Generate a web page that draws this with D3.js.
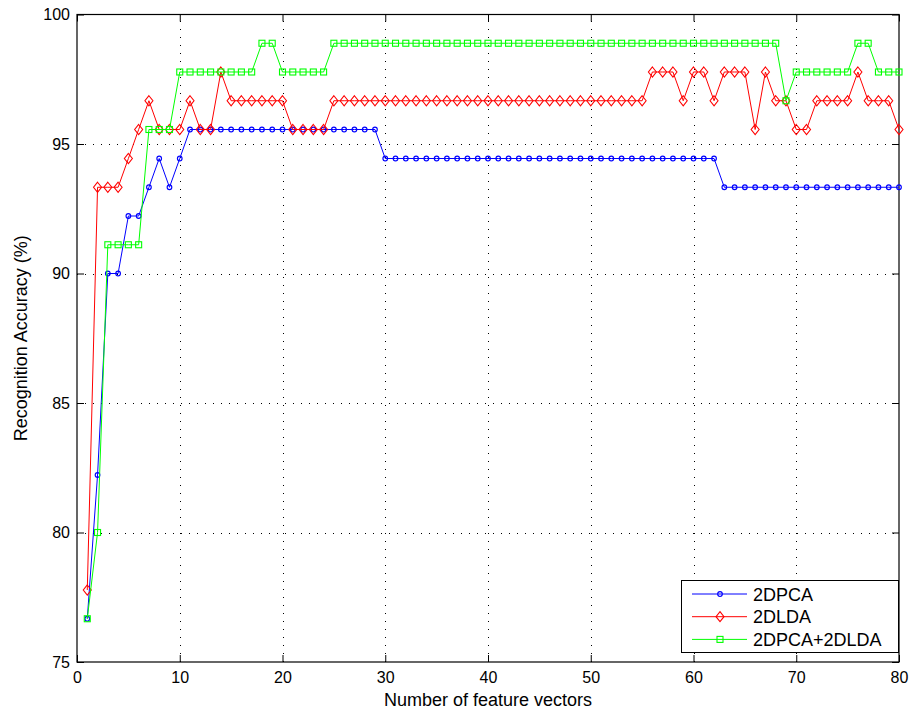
<!DOCTYPE html>
<html>
<head>
<meta charset="utf-8">
<script src="https://cdn.jsdelivr.net/npm/d3@7.9.0/dist/d3.min.js"></script>
<style>
  body { margin: 0; background: #fff; }
  svg { display: block; font-family: "Liberation Sans", Arial, sans-serif; }
</style>
</head>
<body>
<svg id="chart" width="911" height="713"></svg>
<script>
// x positions: number of feature vectors 1..80
const featureCounts = d3.range(1, 81);

// accuracy values (%) (multiples of 1/90)
const pca2d = [
  76.67, 82.22, 90.00, 90.00, 92.22, 92.22, 93.33, 94.44, 93.33, 94.44,
  95.56, 95.56, 95.56, 95.56, 95.56, 95.56, 95.56, 95.56, 95.56, 95.56,
  95.56, 95.56, 95.56, 95.56, 95.56, 95.56, 95.56, 95.56, 95.56, 94.44,
  94.44, 94.44, 94.44, 94.44, 94.44, 94.44, 94.44, 94.44, 94.44, 94.44,
  94.44, 94.44, 94.44, 94.44, 94.44, 94.44, 94.44, 94.44, 94.44, 94.44,
  94.44, 94.44, 94.44, 94.44, 94.44, 94.44, 94.44, 94.44, 94.44, 94.44,
  94.44, 94.44, 93.33, 93.33, 93.33, 93.33, 93.33, 93.33, 93.33, 93.33,
  93.33, 93.33, 93.33, 93.33, 93.33, 93.33, 93.33, 93.33, 93.33, 93.33
];
const lda2d = [
  77.78, 93.33, 93.33, 93.33, 94.44, 95.56, 96.67, 95.56, 95.56, 95.56,
  96.67, 95.56, 95.56, 97.78, 96.67, 96.67, 96.67, 96.67, 96.67, 96.67,
  95.56, 95.56, 95.56, 95.56, 96.67, 96.67, 96.67, 96.67, 96.67, 96.67,
  96.67, 96.67, 96.67, 96.67, 96.67, 96.67, 96.67, 96.67, 96.67, 96.67,
  96.67, 96.67, 96.67, 96.67, 96.67, 96.67, 96.67, 96.67, 96.67, 96.67,
  96.67, 96.67, 96.67, 96.67, 96.67, 97.78, 97.78, 97.78, 96.67, 97.78,
  97.78, 96.67, 97.78, 97.78, 97.78, 95.56, 97.78, 96.67, 96.67, 95.56,
  95.56, 96.67, 96.67, 96.67, 96.67, 97.78, 96.67, 96.67, 96.67, 95.56
];
const pcaLda2d = [
  76.67, 80.00, 91.11, 91.11, 91.11, 91.11, 95.56, 95.56, 95.56, 97.78,
  97.78, 97.78, 97.78, 97.78, 97.78, 97.78, 97.78, 98.89, 98.89, 97.78,
  97.78, 97.78, 97.78, 97.78, 98.89, 98.89, 98.89, 98.89, 98.89, 98.89,
  98.89, 98.89, 98.89, 98.89, 98.89, 98.89, 98.89, 98.89, 98.89, 98.89,
  98.89, 98.89, 98.89, 98.89, 98.89, 98.89, 98.89, 98.89, 98.89, 98.89,
  98.89, 98.89, 98.89, 98.89, 98.89, 98.89, 98.89, 98.89, 98.89, 98.89,
  98.89, 98.89, 98.89, 98.89, 98.89, 98.89, 98.89, 98.89, 96.67, 97.78,
  97.78, 97.78, 97.78, 97.78, 97.78, 98.89, 98.89, 97.78, 97.78, 97.78
];

const seriesNames = ["2DPCA", "2DLDA", "2DPCA+2DLDA"];
const seriesColors = ["#0000ff", "#ff0000", "#00ff00"];
const seriesMarkers = ["circle", "diamond", "square"];
const xTicks = [0, 10, 20, 30, 40, 50, 60, 70, 80];
const yTicks = [75, 80, 85, 90, 95, 100];

const series = [pca2d, lda2d, pcaLda2d].map((vals, i) => ({
  name: seriesNames[i],
  color: seriesColors[i],
  marker: seriesMarkers[i],
  points: vals.map((v, j) => ({ x: featureCounts[j], y: v }))
}));

const svg = d3.select("#chart");
const plotLeft = 77, plotRight = 899, plotTop = 14.5, plotBottom = 662;

const x = d3.scaleLinear().domain([0, 80]).range([plotLeft, plotRight]);
const y = d3.scaleLinear().domain([75, 100]).range([plotBottom, plotTop]);

// dotted grid
const grid = svg.append("g").attr("stroke", "#000").attr("stroke-width", 1)
  .attr("stroke-dasharray", "1,7");
grid.selectAll(".gx").data(xTicks.slice(1, -1)).enter().append("line")
  .attr("x1", d => Math.round(x(d)) + 0.5).attr("x2", d => Math.round(x(d)) + 0.5)
  .attr("y1", plotBottom).attr("y2", plotTop);
grid.selectAll(".gy").data(yTicks.slice(1, -1)).enter().append("line")
  .attr("y1", d => Math.round(y(d)) + 0.5).attr("y2", d => Math.round(y(d)) + 0.5)
  .attr("x1", plotLeft).attr("x2", plotRight);

// axes: inward ticks on all four sides (box)
const axisStyle = g => {
  g.select(".domain").remove();
  g.selectAll("text").attr("font-size", 16).attr("fill", "#000")
    .attr("font-family", "Liberation Sans, Arial, sans-serif");
  g.selectAll("line").attr("stroke", "#000");
};
svg.append("g").attr("transform", `translate(0,${plotBottom})`)
  .call(d3.axisBottom(x).tickValues(xTicks).tickSize(-7).tickPadding(10))
  .call(axisStyle);
svg.append("g").attr("transform", `translate(0,${plotTop})`)
  .call(d3.axisTop(x).tickValues(xTicks).tickSize(-7).tickFormat(""))
  .call(axisStyle);
svg.append("g").attr("transform", `translate(${plotLeft},0)`)
  .call(d3.axisLeft(y).tickValues(yTicks).tickSize(-7).tickPadding(7))
  .call(axisStyle);
svg.append("g").attr("transform", `translate(${plotRight},0)`)
  .call(d3.axisRight(y).tickValues(yTicks).tickSize(-7).tickFormat(""))
  .call(axisStyle);

svg.append("rect")
  .attr("x", plotLeft).attr("y", plotTop)
  .attr("width", plotRight - plotLeft).attr("height", plotBottom - plotTop)
  .attr("fill", "none").attr("stroke", "#000").attr("stroke-width", 1.2);

// marker drawing helper
function drawMarker(sel, kind, color) {
  if (kind === "circle") {
    sel.append("circle").attr("r", 2.3)
      .attr("fill", "none").attr("stroke", color).attr("stroke-width", 1.2);
  } else if (kind === "diamond") {
    sel.append("path").attr("d", "M0,-5L4,0L0,5L-4,0Z")
      .attr("fill", "none").attr("stroke", color).attr("stroke-width", 1.1);
  } else {
    sel.append("rect").attr("x", -3).attr("y", -3).attr("width", 6).attr("height", 6)
      .attr("fill", "none").attr("stroke", color).attr("stroke-width", 1.1);
  }
}

const line = d3.line().x(d => x(d.x)).y(d => y(d.y));

series.forEach(s => {
  const g = svg.append("g");
  g.append("path").datum(s.points).attr("d", line)
    .attr("fill", "none").attr("stroke", s.color).attr("stroke-width", 1);
  g.selectAll("g.m").data(s.points).enter().append("g")
    .attr("transform", d => `translate(${x(d.x)},${y(d.y)})`)
    .each(function () { drawMarker(d3.select(this), s.marker, s.color); });
});

// axis titles
svg.append("text").attr("x", (plotLeft + plotRight) / 2).attr("y", 706)
  .attr("text-anchor", "middle").attr("font-size", 18).text("Number of feature vectors");
svg.append("text")
  .attr("transform", `translate(27,${(plotTop + plotBottom) / 2}) rotate(-90)`)
  .attr("text-anchor", "middle").attr("font-size", 18).text("Recognition Accuracy (%)");

// legend
const lg = svg.append("g");
lg.append("rect").attr("x", 681.5).attr("y", 580.5).attr("width", 217).attr("height", 72)
  .attr("fill", "#fff").attr("stroke", "#000").attr("stroke-width", 1);
series.forEach((s, i) => {
  const yy = 594 + i * 22.7;
  lg.append("line").attr("x1", 692).attr("x2", 747).attr("y1", yy).attr("y2", yy)
    .attr("stroke", s.color).attr("stroke-width", 1);
  const m = lg.append("g").attr("transform", `translate(720,${yy})`);
  drawMarker(m, s.marker, s.color);
  lg.append("text").attr("x", 753).attr("y", yy + 6.5).attr("font-size", 18).text(s.name);
});
</script>
</body>
</html>
